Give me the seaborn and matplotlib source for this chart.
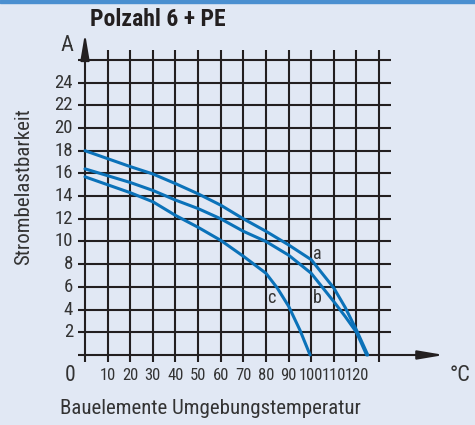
import numpy as np
import pandas as pd
import matplotlib.pyplot as plt
import seaborn as sns
from matplotlib import font_manager

# Current rating curves, Polzahl 6 + PE
TEMP_A = [0, 10, 20, 30, 40, 50, 60, 70, 80, 90, 100, 110, 115, 120, 125]
CURR_A = [18.0, 17.3, 16.6, 15.95, 15.1, 14.2, 13.2, 12.0, 10.9, 9.7, 8.4, 5.9, 4.2, 2.2, 0.0]
TEMP_B = [0, 10, 20, 30, 40, 50, 60, 70, 80, 90, 100, 110, 115, 120, 124.5]
CURR_B = [16.4, 15.8, 15.2, 14.5, 13.65, 12.9, 12.0, 10.9, 10.0, 8.8, 7.2, 4.7, 3.4, 2.0, 0.0]
TEMP_C = [0, 10, 20, 30, 40, 50, 60, 70, 80, 85, 90, 95, 99.5]
CURR_C = [15.7, 15.0, 14.3, 13.5, 12.3, 11.25, 10.1, 8.7, 7.2, 5.9, 4.3, 2.2, 0.0]
CURVE_NAMES = ['a', 'b', 'c']

X_TICKS = list(range(10, 130, 10))
Y_TICKS = list(range(2, 26, 2))

BG = '#E1E8F4'
BLUE = '#0B72B9'
GRID = '#231F20'
TXT = '#333333'

sns.set_theme(style='white')

# look for a narrow/condensed sans face, the original uses Helvetica Condensed
entries = font_manager.fontManager.ttflist
family, stretch = 'Liberation Sans', 'normal'
for want in ['Liberation Sans Narrow', 'Roboto Condensed', 'DejaVu Sans Condensed',
             'Open Sans Condensed', 'Noto Sans Condensed']:
    if any(f.name == want for f in entries):
        family, stretch = want, 'normal'
        break
else:
    for f in entries:
        if f.name in ('DejaVu Sans', 'Noto Sans', 'Open Sans', 'Roboto') and \
                str(f.stretch) in ('condensed', 'semi-condensed', '500', '600'):
            family, stretch = f.name, f.stretch
            break
plt.rcParams['font.family'] = [family, 'DejaVu Sans']
plt.rcParams['font.stretch'] = stretch
narrow = stretch != 'normal' or 'Narrow' in family or 'Condensed' in family

fig = plt.figure(figsize=(4.75, 4.25), dpi=100, facecolor=BG)
ax = fig.add_axes([0, 0, 1, 1], facecolor=BG)
ax.set_xlim(-37.58, 172.41)
ax.set_ylim(-6.17, 31.28)
ax.axis('off')

# top blue border
fig.patches.append(plt.Rectangle((0, 0.993), 1, 0.007, transform=fig.transFigure,
                                 color='#4A8FD0', zorder=0))

# grid
for x in range(0, 140, 10):
    ax.vlines(x, -0.6, 26.9, color=GRID, lw=1.5, zorder=2)
for y in range(2, 28, 2):
    ax.hlines(y, -3, 135.3, color=GRID, lw=1.5, zorder=2)

# axes with arrows
ax.hlines(0, -3, 150, color=GRID, lw=1.5, zorder=2)
ax.annotate('', xy=(160, 0), xytext=(148, 0),
            arrowprops=dict(arrowstyle='-|>,head_length=1.3,head_width=0.22',
                            color=GRID, lw=1.5), zorder=3)
ax.annotate('', xy=(0, 28.6), xytext=(0, 26),
            arrowprops=dict(arrowstyle='-|>,head_length=1.3,head_width=0.22',
                            color=GRID, lw=1.5), zorder=3)

# curves
df = pd.concat([
    pd.DataFrame({'T': TEMP_A, 'I': CURR_A, 'curve': 'a'}),
    pd.DataFrame({'T': TEMP_B, 'I': CURR_B, 'curve': 'b'}),
    pd.DataFrame({'T': TEMP_C, 'I': CURR_C, 'curve': 'c'}),
])
sns.lineplot(data=df, x='T', y='I', hue='curve', palette=[BLUE] * 3,
             sort=False, estimator=None, lw=2.2, legend=False, ax=ax, zorder=4)

# curve labels
for name, (lx, ly) in zip(CURVE_NAMES, [(102.6, 8.9), (102.6, 5.0), (82.2, 5.0)]):
    ax.text(lx, ly, name, ha='center', va='center', fontsize=13, color=TXT, zorder=5)

# tick labels
xtick_fs = 12 if narrow else 10
ytick_fs = 13.5 if narrow else 11
for x in X_TICKS:
    ax.text(x, -1.85, str(x), ha='center', va='center', fontsize=xtick_fs, color=TXT)
for y in Y_TICKS:
    ax.text(-5.3, y, str(y), ha='right', va='center', fontsize=ytick_fs, color=TXT)
ax.text(-6.6, -1.85, '0', ha='center', va='center', fontsize=ytick_fs + 2, color=TXT)
ax.text(165.8, -1.85, '°C', ha='center', va='center', fontsize=16, color=TXT)
ax.text(-8, 27.3, 'A', ha='center', va='center', fontsize=16, color=TXT)

# axis titles
ax.text(-27, 14.8, 'Strombelastbarkeit', rotation=90, ha='center', va='center',
        fontsize=15, color=TXT)
ax.text(55.3, -4.7, 'Bauelemente Umgebungstemperatur', ha='center', va='center',
        fontsize=15, color=TXT)
ax.text(2.2, 29.6, 'Polzahl 6 + PE', ha='left', va='center', fontsize=17,
        fontweight='bold', color='#231F20')

fig.savefig('out.png', dpi=100, facecolor=BG)
